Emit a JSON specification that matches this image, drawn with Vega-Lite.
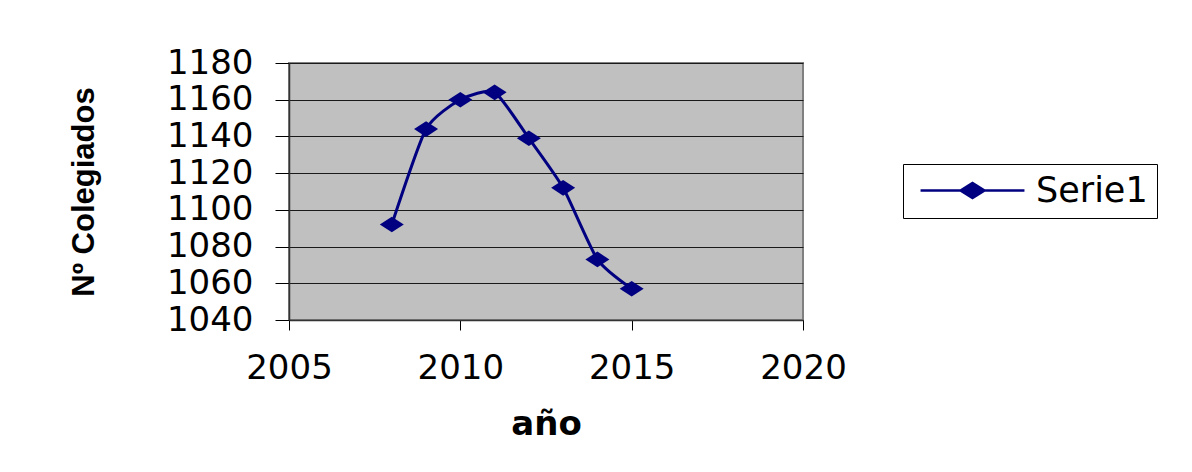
{
  "$schema": "https://vega.github.io/schema/vega-lite/v6.json",
  "width": 514,
  "height": 257,
  "autosize": {"type": "none"},
  "padding": {"left": 289, "top": 63, "right": 389, "bottom": 152},
  "background": "white",
  "config": {
    "view": {"fill": "#C0C0C0", "stroke": "#808080", "strokeWidth": 2},
    "font": "DejaVu Sans"
  },
  "data": {
    "values": [
      {"year": 2008, "value": 1092},
      {"year": 2009, "value": 1144},
      {"year": 2010, "value": 1160},
      {"year": 2011, "value": 1164},
      {"year": 2012, "value": 1139},
      {"year": 2013, "value": 1112},
      {"year": 2014, "value": 1073},
      {"year": 2015, "value": 1057}
    ]
  },
  "encoding": {
    "x": {
      "field": "year",
      "type": "quantitative",
      "scale": {"domain": [2005, 2020], "nice": false, "zero": false},
      "axis": {
        "title": "año",
        "values": [2005, 2010, 2015, 2020],
        "format": "d",
        "grid": false,
        "tickSize": 10,
        "tickColor": "black",
        "domainColor": "#333333",
        "domainWidth": 1.5,
        "labelFont": "DejaVu Sans",
        "labelFontSize": 34,
        "labelColor": "black",
        "labelPadding": 21,
        "labelFlush": false,
        "titleFont": "DejaVu Sans",
        "titleFontSize": 34,
        "titleFontWeight": "bold",
        "titleColor": "black",
        "titlePadding": 22
      }
    },
    "y": {
      "field": "value",
      "type": "quantitative",
      "scale": {"domain": [1040, 1180], "nice": false, "zero": false},
      "axis": {
        "title": "Nº Colegiados",
        "values": [1040, 1060, 1080, 1100, 1120, 1140, 1160, 1180],
        "format": "d",
        "grid": true,
        "gridColor": "#1a1a1a",
        "gridWidth": 1,
        "gridOpacity": 1,
        "tickSize": 14,
        "tickColor": "black",
        "domainColor": "#333333",
        "domainWidth": 1.5,
        "labelFont": "DejaVu Sans",
        "labelFontSize": 34,
        "labelColor": "black",
        "labelPadding": 22,
        "labelFlush": false,
        "titleFont": "Liberation Sans",
        "titleFontSize": 31,
        "titleFontWeight": "bold",
        "titleColor": "black",
        "titlePadding": 66
      }
    },
    "color": {
      "datum": "Serie1",
      "type": "nominal",
      "scale": {"range": ["#000080"]},
      "legend": {
        "title": null,
        "orient": "none",
        "legendX": 614,
        "legendY": 101,
        "strokeColor": "black",
        "padding": 9,
        "symbolType": "M-4.33,0L4.33,0M-1,0L0,-0.62L1,0L0,0.62Z",
        "symbolSize": 576,
        "symbolFillColor": "#000080",
        "symbolStrokeColor": "#000080",
        "symbolStrokeWidth": 2.5,
        "symbolOffset": 43,
        "labelOffset": 46,
        "labelFont": "DejaVu Sans",
        "labelFontSize": 35,
        "labelColor": "black"
      }
    }
  },
  "layer": [
    {
      "mark": {"type": "line", "interpolate": "cardinal", "tension": 0.4, "strokeWidth": 3}
    },
    {
      "mark": {
        "type": "point",
        "shape": "M-1,0L0,-0.65L1,0L0,0.65Z",
        "filled": true,
        "size": 576,
        "opacity": 1
      }
    }
  ]
}
